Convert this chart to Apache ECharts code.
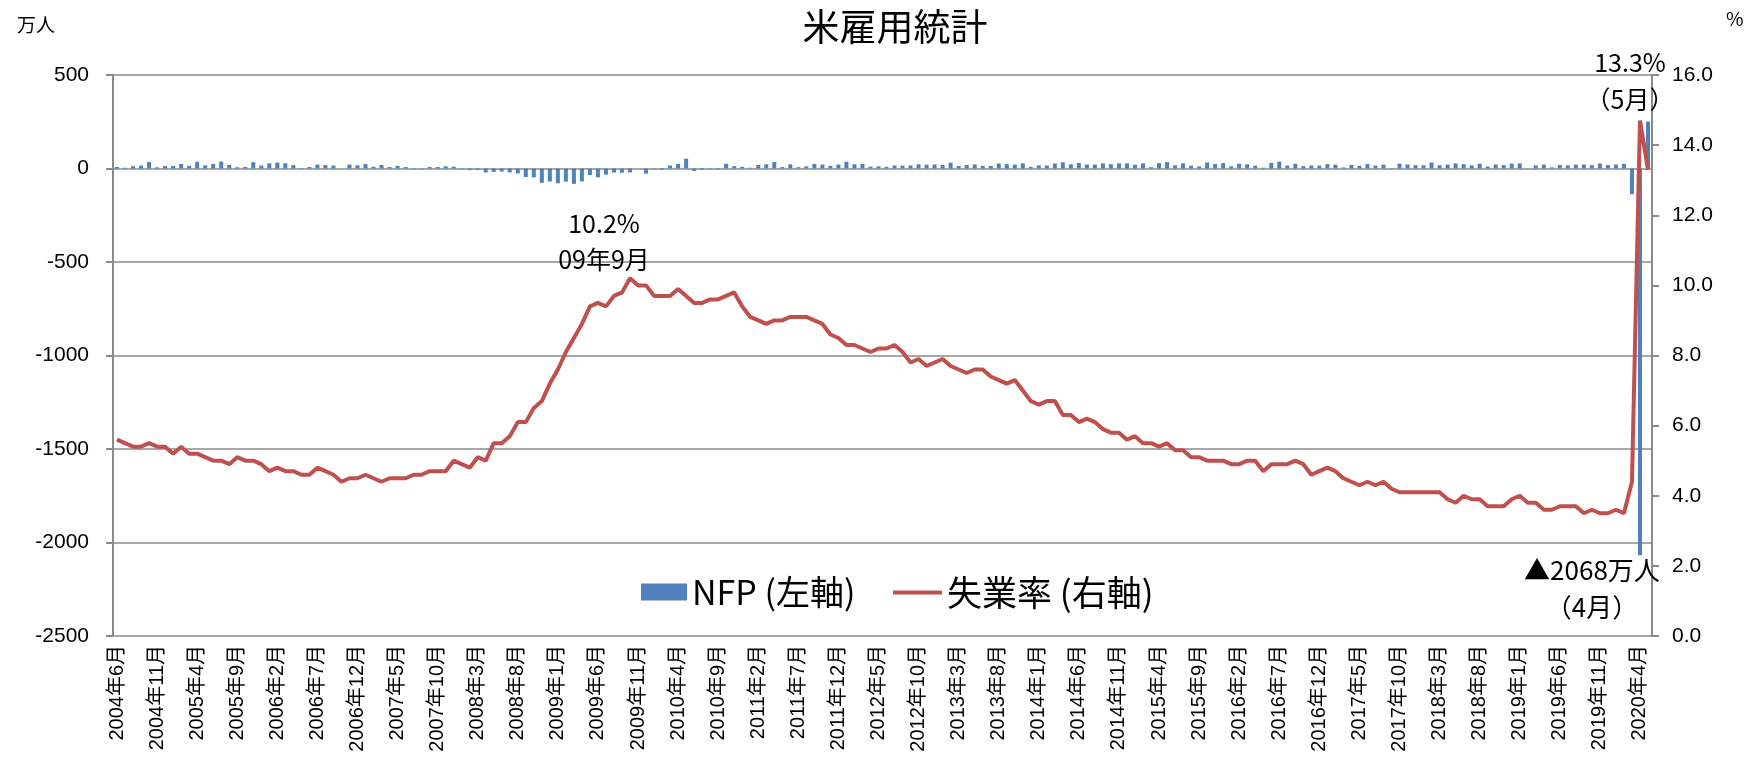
<!DOCTYPE html>
<html><head><meta charset="utf-8">
<script src="https://cdn.jsdelivr.net/npm/echarts@6/dist/echarts.min.js"></script>
<style>html,body{margin:0;padding:0;background:#fff}#c{width:1764px;height:769px}</style>
</head><body><div id="c"></div>
<script>
// Monthly categories: 2004年6月 .. 2020年5月
const startYear = 2004, startMonth = 6, monthCount = 192;
const categories = [];
for (let i = 0; i < monthCount; i++) {
  const m = startMonth - 1 + i;
  categories.push((startYear + Math.floor(m / 12)) + '年' + (m % 12 + 1) + '月');
}

// NFP change (万人)
const nfp2004 = [8.2, 3.9, 12.3, 15.9, 35.2, 6.5, 13.0];
const nfp2005 = [13.5, 24.0, 14.2, 36.2, 17.1, 24.6, 36.9, 19.5, 6.5, 8.4, 33.7, 15.9];
const nfp2006 = [27.7, 31.5, 28.0, 18.2, 2.3, 8.0, 20.7, 18.3, 15.7, 0.2, 21.0, 17.1];
const nfp2007 = [23.6, 9.0, 18.9, 7.9, 14.3, 7.8, -3.3, -1.6, 8.5, 8.2, 11.8, 9.7];
const nfp2008 = [1.7, -8.4, -7.8, -21.0, -18.5, -16.5, -20.9, -26.6, -45.2, -47.3, -76.9, -69.5];
const nfp2009 = [-79.1, -70.3, -82.3, -68.6, -35.1, -47.0, -32.9, -21.3, -22.0, -20.4, -0.2, -27.5];
const nfp2010 = [2.3, -6.9, 16.3, 24.3, 52.2, -13.3, -7.0, -3.4, -5.2, 25.7, 12.3, 8.8];
const nfp2011 = [4.2, 18.8, 22.5, 34.6, 7.7, 22.5, 6.9, 11.0, 24.8, 20.9, 14.1, 20.9];
const nfp2012 = [36.1, 22.6, 24.3, 9.6, 11.0, 8.8, 16.0, 15.0, 16.1, 22.5, 20.3, 21.4];
const nfp2013 = [19.0, 31.1, 13.5, 19.2, 21.8, 14.6, 14.0, 26.8, 23.7, 21.0, 27.4, 8.3];
const nfp2014 = [16.8, 15.9, 27.0, 33.1, 22.4, 30.0, 21.5, 20.8, 27.0, 23.2, 27.7, 26.9];
const nfp2015 = [20.1, 27.1, 6.6, 28.8, 34.0, 17.2, 27.7, 15.2, 11.0, 32.7, 24.4, 28.7];
const nfp2016 = [11.6, 25.1, 22.5, 14.9, 4.3, 29.7, 36.8, 15.5, 25.2, 12.5, 16.3, 15.5];
const nfp2017 = [23.4, 20.7, 5.2, 19.0, 14.3, 23.9, 15.5, 20.4, 1.9, 25.8, 21.5, 17.6];
const nfp2018 = [17.5, 32.5, 17.5, 21.1, 27.2, 23.5, 16.6, 25.5, 10.3, 21.4, 18.1, 26.2];
const nfp2019 = [27.3, 0.4, 16.5, 20.8, 6.2, 18.7, 16.9, 20.7, 21.5, 18.1, 26.4, 18.4];
const nfp2020 = [21.4, 25.1, -137.3, -2068, 250.9];

// Unemployment rate (%)
const ur2004 = [5.6, 5.5, 5.4, 5.4, 5.5, 5.4, 5.4];
const ur2005 = [5.2, 5.4, 5.2, 5.2, 5.1, 5.0, 5.0, 4.9, 5.1, 5.0, 5.0, 4.9];
const ur2006 = [4.7, 4.8, 4.7, 4.7, 4.6, 4.6, 4.8, 4.7, 4.6, 4.4, 4.5, 4.5];
const ur2007 = [4.6, 4.5, 4.4, 4.5, 4.5, 4.5, 4.6, 4.6, 4.7, 4.7, 4.7, 5.0];
const ur2008 = [4.9, 4.8, 5.1, 5.0, 5.5, 5.5, 5.7, 6.1, 6.1, 6.5, 6.7, 7.2];
const ur2009 = [7.6, 8.1, 8.5, 8.9, 9.4, 9.5, 9.4, 9.7, 9.8, 10.2, 10.0, 10.0];
const ur2010 = [9.7, 9.7, 9.7, 9.9, 9.7, 9.5, 9.5, 9.6, 9.6, 9.7, 9.8, 9.4];
const ur2011 = [9.1, 9.0, 8.9, 9.0, 9.0, 9.1, 9.1, 9.1, 9.0, 8.9, 8.6, 8.5];
const ur2012 = [8.3, 8.3, 8.2, 8.1, 8.2, 8.2, 8.3, 8.1, 7.8, 7.9, 7.7, 7.8];
const ur2013 = [7.9, 7.7, 7.6, 7.5, 7.6, 7.6, 7.4, 7.3, 7.2, 7.3, 7.0, 6.7];
const ur2014 = [6.6, 6.7, 6.7, 6.3, 6.3, 6.1, 6.2, 6.1, 5.9, 5.8, 5.8, 5.6];
const ur2015 = [5.7, 5.5, 5.5, 5.4, 5.5, 5.3, 5.3, 5.1, 5.1, 5.0, 5.0, 5.0];
const ur2016 = [4.9, 4.9, 5.0, 5.0, 4.7, 4.9, 4.9, 4.9, 5.0, 4.9, 4.6, 4.7];
const ur2017 = [4.8, 4.7, 4.5, 4.4, 4.3, 4.4, 4.3, 4.4, 4.2, 4.1, 4.1, 4.1];
const ur2018 = [4.1, 4.1, 4.1, 3.9, 3.8, 4.0, 3.9, 3.9, 3.7, 3.7, 3.7, 3.9];
const ur2019 = [4.0, 3.8, 3.8, 3.6, 3.6, 3.7, 3.7, 3.7, 3.5, 3.6, 3.5, 3.5];
const ur2020 = [3.6, 3.5, 4.4, 14.7, 13.3];

const nfp = [].concat(nfp2004, nfp2005, nfp2006, nfp2007, nfp2008, nfp2009, nfp2010, nfp2011,
  nfp2012, nfp2013, nfp2014, nfp2015, nfp2016, nfp2017, nfp2018, nfp2019, nfp2020);
const unemp = [].concat(ur2004, ur2005, ur2006, ur2007, ur2008, ur2009, ur2010, ur2011,
  ur2012, ur2013, ur2014, ur2015, ur2016, ur2017, ur2018, ur2019, ur2020);

const leftAxisRange = [-2500, 500, 500];
const rightAxisRange = [0, 16, 2];

const FONT = "'Liberation Sans', 'Noto Sans CJK JP', sans-serif";
const CJK = "'Noto Sans CJK JP', sans-serif";
const AXIS_GRAY = '#8a8a8a';

const chart = echarts.init(document.getElementById('c'), null, {renderer: 'canvas'});
chart.setOption({
  animation: false,
  backgroundColor: '#fff',
  textStyle: {fontFamily: FONT, color: '#000'},
  title: [
    {text: '米雇用統計', left: 890, top: 3, textAlign: 'center',
     textStyle: {fontFamily: CJK, fontSize: 37, fontWeight: 'normal', color: '#000'}},
    {text: '万人', left: 12, top: 10,
     textStyle: {fontFamily: CJK, fontSize: 19, fontWeight: 'normal', color: '#000'}},
    {text: '%', left: 1721, top: 4,
     textStyle: {fontFamily: CJK, fontSize: 19, fontWeight: 'normal', color: '#000'}}
  ],
  legend: [
    {left: 636, top: 570,
     itemWidth: 46, itemHeight: 17,
     textStyle: {fontFamily: CJK, fontSize: 34, color: '#000'},
     data: [{name: 'NFP (左軸)', icon: 'rect'}]},
    {left: 888, top: 570,
     itemWidth: 49, itemHeight: 4,
     textStyle: {fontFamily: CJK, fontSize: 35, color: '#000'},
     data: [{name: '失業率 (右軸)', icon: 'rect'}]}
  ],
  grid: {left: 113, right: 112, top: 75, bottom: 133, containLabel: false},
  xAxis: {
    type: 'category', data: categories, boundaryGap: true,
    axisLine: {show: false}, axisTick: {show: false},
    axisLabel: {interval: 4, rotate: 90, fontSize: 20, color: '#000', margin: 9, fontFamily: FONT},
    splitLine: {show: false}
  },
  yAxis: [
    {type: 'value', min: leftAxisRange[0], max: leftAxisRange[1], interval: leftAxisRange[2],
     axisLine: {show: true, lineStyle: {color: AXIS_GRAY, width: 2}},
     axisTick: {show: true, length: 7, lineStyle: {color: AXIS_GRAY, width: 2}},
     axisLabel: {fontSize: 21, color: '#000', margin: 24, fontFamily: FONT,
                 formatter: v => String(v)},
     splitLine: {show: true, lineStyle: {color: AXIS_GRAY, width: 1.6}}},
    {type: 'value', min: rightAxisRange[0], max: rightAxisRange[1], interval: rightAxisRange[2],
     position: 'right',
     axisLine: {show: true, lineStyle: {color: AXIS_GRAY, width: 2}},
     axisTick: {show: true, length: 7, lineStyle: {color: AXIS_GRAY, width: 2}},
     axisLabel: {fontSize: 21, color: '#000', margin: 20, fontFamily: FONT,
                 formatter: v => v.toFixed(1)},
     splitLine: {show: false}}
  ],
  series: [
    {name: 'NFP (左軸)', type: 'bar', data: nfp, yAxisIndex: 0, barWidth: '50%',
     itemStyle: {color: '#4F81BD'},
     markPoint: {
       symbol: 'rect', symbolSize: 1, itemStyle: {color: 'rgba(0,0,0,0)'},
       data: [{coord: [categories[190], nfp[190]],
               label: {show: true, position: 'inside', formatter: '▲2068万人\n（4月）',
                       offset: [-48, 33], fontSize: 26, lineHeight: 37, color: '#000',
                       fontFamily: CJK, align: 'center', verticalAlign: 'middle'}}]
     }},
    {name: '失業率 (右軸)', type: 'line', data: unemp, yAxisIndex: 1,
     symbol: 'none', lineStyle: {color: '#C0504D', width: 4}, itemStyle: {color: '#C0504D'},
     markPoint: {
       symbol: 'rect', symbolSize: 1, itemStyle: {color: 'rgba(0,0,0,0)'},
       data: [
         {coord: [categories[64], unemp[64]],
          label: {show: true, position: 'inside', formatter: '10.2%\n09年9月',
                  offset: [-26, -37], fontSize: 25, lineHeight: 36, color: '#000',
                  fontFamily: CJK, align: 'center', verticalAlign: 'middle'}},
         {coord: [categories[191], unemp[191]],
          label: {show: true, position: 'inside', formatter: '13.3%\n（5月）',
                  offset: [-18, -89], fontSize: 25, lineHeight: 37, color: '#000',
                  fontFamily: CJK, align: 'center', verticalAlign: 'middle'}}
       ]
     }}
  ]
});
</script></body></html>
